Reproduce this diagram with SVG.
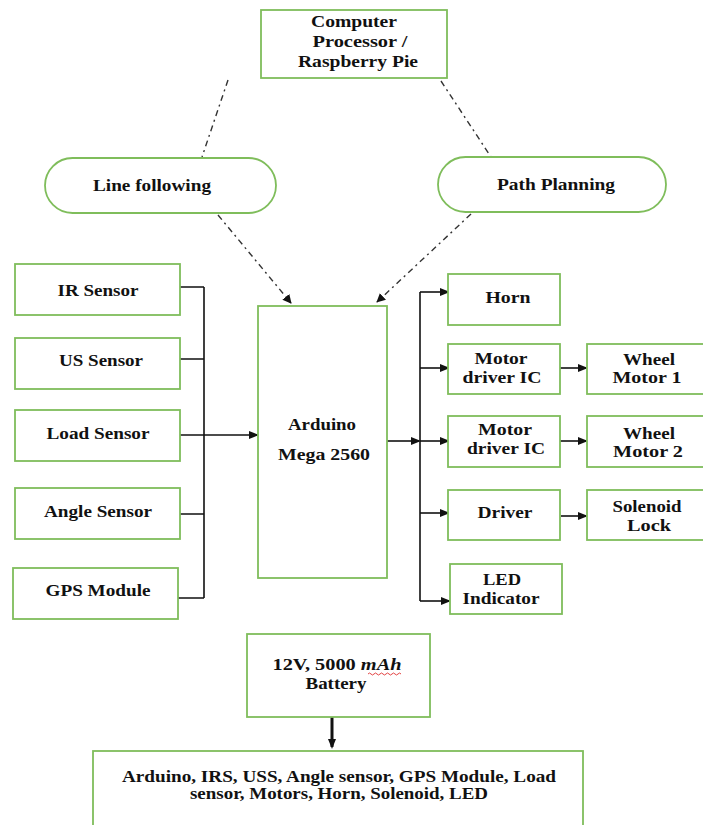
<svg xmlns="http://www.w3.org/2000/svg" width="703" height="825" viewBox="0 0 703 825">
<style>
.box{fill:#fff;stroke:#7fbd5b;stroke-width:1.8}
.t{font-family:"Liberation Serif","Times New Roman",serif;font-weight:bold;font-size:16px;fill:#111;text-anchor:middle}
.ln{fill:none;stroke:#111;stroke-width:1.6}
.dd{fill:none;stroke:#333;stroke-width:1.4;stroke-dasharray:6 4 2 4}
</style>
<defs>
<marker id="ah" viewBox="0 0 10 10" refX="9" refY="5" markerWidth="5" markerHeight="5" orient="auto" markerUnits="userSpaceOnUse">
<path d="M0,0 L10,5 L0,10 z" fill="#111"/>
</marker>
<marker id="ah2" viewBox="0 0 10 10" refX="9" refY="5" markerWidth="9" markerHeight="9" orient="auto" markerUnits="userSpaceOnUse">
<path d="M0,0 L10,5 L0,10 z" fill="#111"/>
</marker>
<marker id="ah3" viewBox="0 0 10 10" refX="8" refY="5" markerWidth="10" markerHeight="10" orient="auto" markerUnits="userSpaceOnUse">
<path d="M0,1 L10,5 L0,9 z" fill="#111"/>
</marker>
</defs>

<g id="connectors">
<path class="dd" d="M228,80 L202,157"/>
<path class="dd" d="M441,81 L491,157"/>
<path class="dd" d="M218,215 L291,303" marker-end="url(#ah2)"/>
<path class="dd" d="M471,214 L377,302" marker-end="url(#ah2)"/>
<path class="ln" d="M180,287 H204 M180,359 H204 M180,514 H204 M178,598 H204 M204,287 V598"/>
<path class="ln" d="M180,435 H257" marker-end="url(#ah3)"/>
<path class="ln" d="M387,441 H419" marker-end="url(#ah3)"/>
<path class="ln" d="M420,292 V601"/>
<path class="ln" d="M420,292 H448" marker-end="url(#ah3)"/>
<path class="ln" d="M420,368 H448" marker-end="url(#ah3)"/>
<path class="ln" d="M420,441 H448" marker-end="url(#ah3)"/>
<path class="ln" d="M420,513 H448" marker-end="url(#ah3)"/>
<path class="ln" d="M420,601 H449" marker-end="url(#ah3)"/>
<path class="ln" d="M560,368 H586" marker-end="url(#ah3)"/>
<path class="ln" d="M560,441 H586" marker-end="url(#ah3)"/>
<path class="ln" d="M561,516 H586" marker-end="url(#ah3)"/>
<path d="M332,717 V747" fill="none" stroke="#111" stroke-width="3" marker-end="url(#ah3)"/>
</g>

<g id="computer">
<rect class="box" x="261" y="10" width="186" height="68"/>
<text class="t" x="354" y="27" textLength="86" lengthAdjust="spacingAndGlyphs">Computer</text>
<text class="t" x="360" y="47" textLength="95" lengthAdjust="spacingAndGlyphs">Processor /</text>
<text class="t" x="358" y="67" textLength="120" lengthAdjust="spacingAndGlyphs">Raspberry Pie</text>
</g>
<g id="line-following">
<rect class="box" x="45" y="158" width="231" height="55" rx="27.5"/>
<text class="t" x="152" y="191" textLength="118" lengthAdjust="spacingAndGlyphs">Line following</text>
</g>
<g id="path-planning">
<rect class="box" x="438" y="157" width="228" height="55" rx="27.5"/>
<text class="t" x="556" y="190" textLength="118" lengthAdjust="spacingAndGlyphs">Path Planning</text>
</g>

<g id="ir-sensor">
<rect class="box" x="15" y="264" width="165" height="51"/>
<text class="t" x="98" y="296" textLength="81" lengthAdjust="spacingAndGlyphs">IR Sensor</text>
</g>
<g id="us-sensor">
<rect class="box" x="15" y="338" width="165" height="51"/>
<text class="t" x="101" y="366" textLength="84" lengthAdjust="spacingAndGlyphs">US Sensor</text>
</g>
<g id="load-sensor">
<rect class="box" x="15" y="410" width="165" height="51"/>
<text class="t" x="98" y="439" textLength="103" lengthAdjust="spacingAndGlyphs">Load Sensor</text>
</g>
<g id="angle-sensor">
<rect class="box" x="15" y="488" width="165" height="51"/>
<text class="t" x="98" y="517" textLength="108" lengthAdjust="spacingAndGlyphs">Angle Sensor</text>
</g>
<g id="gps-module">
<rect class="box" x="13" y="568" width="165" height="51"/>
<text class="t" x="98" y="596" textLength="105" lengthAdjust="spacingAndGlyphs">GPS Module</text>
</g>

<g id="arduino">
<rect class="box" x="258" y="306" width="129" height="272"/>
<text class="t" x="322" y="430" textLength="68" lengthAdjust="spacingAndGlyphs">Arduino</text>
<text class="t" x="324" y="460" textLength="92" lengthAdjust="spacingAndGlyphs">Mega 2560</text>
</g>

<g id="horn">
<rect class="box" x="448" y="274" width="112" height="51"/>
<text class="t" x="508" y="303" textLength="45" lengthAdjust="spacingAndGlyphs">Horn</text>
</g>
<g id="motor-driver-1">
<rect class="box" x="448" y="344" width="112" height="50"/>
<text class="t" x="501" y="364" textLength="53" lengthAdjust="spacingAndGlyphs">Motor</text>
<text class="t" x="502" y="383" textLength="79" lengthAdjust="spacingAndGlyphs">driver IC</text>
</g>
<g id="wheel-motor-1">
<rect class="box" x="587" y="344" width="130" height="50"/>
<text class="t" x="649" y="365" textLength="52" lengthAdjust="spacingAndGlyphs">Wheel</text>
<text class="t" x="647" y="383" textLength="69" lengthAdjust="spacingAndGlyphs">Motor 1</text>
</g>
<g id="motor-driver-2">
<rect class="box" x="448" y="416" width="112" height="51"/>
<text class="t" x="505" y="435" textLength="54" lengthAdjust="spacingAndGlyphs">Motor</text>
<text class="t" x="506" y="454" textLength="78" lengthAdjust="spacingAndGlyphs">driver IC</text>
</g>
<g id="wheel-motor-2">
<rect class="box" x="587" y="416" width="130" height="51"/>
<text class="t" x="649" y="439" textLength="52" lengthAdjust="spacingAndGlyphs">Wheel</text>
<text class="t" x="648" y="457" textLength="70" lengthAdjust="spacingAndGlyphs">Motor 2</text>
</g>
<g id="driver">
<rect class="box" x="448" y="490" width="112" height="50"/>
<text class="t" x="505" y="518" textLength="55" lengthAdjust="spacingAndGlyphs">Driver</text>
</g>
<g id="solenoid-lock">
<rect class="box" x="587" y="490" width="130" height="50"/>
<text class="t" x="647" y="512" textLength="69" lengthAdjust="spacingAndGlyphs">Solenoid</text>
<text class="t" x="649" y="531" textLength="44" lengthAdjust="spacingAndGlyphs">Lock</text>
</g>
<g id="led-indicator">
<rect class="box" x="450" y="564" width="112" height="50"/>
<text class="t" x="502" y="585" textLength="38" lengthAdjust="spacingAndGlyphs">LED</text>
<text class="t" x="501" y="604" textLength="77" lengthAdjust="spacingAndGlyphs">Indicator</text>
</g>

<g id="battery">
<rect class="box" x="247" y="634" width="183" height="83"/>
<text class="t" x="337" y="670" textLength="129" lengthAdjust="spacingAndGlyphs">12V, 5000 <tspan font-style="italic">mAh</tspan></text>
<path d="M368,674 q1.5,-2 3,0 t3,0 t3,0 t3,0 t3,0 t3,0 t3,0 t3,0 t3,0 t3,0 t3,0" fill="none" stroke="#e03030" stroke-width="0.9"/>
<text class="t" x="336" y="689" textLength="61" lengthAdjust="spacingAndGlyphs">Battery</text>
</g>
<g id="loads">
<rect class="box" x="93" y="751" width="490" height="90"/>
<text class="t" x="339" y="782" textLength="434" lengthAdjust="spacingAndGlyphs">Arduino, IRS, USS, Angle sensor, GPS Module, Load</text>
<text class="t" x="339" y="799" textLength="298" lengthAdjust="spacingAndGlyphs">sensor, Motors, Horn, Solenoid, LED</text>
</g>
</svg>
